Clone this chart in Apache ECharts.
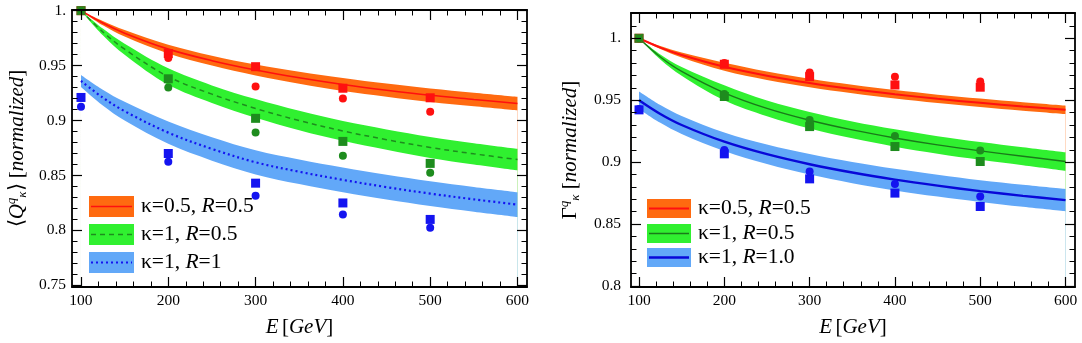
<!DOCTYPE html>
<html>
<head>
<meta charset="utf-8">
<script src="https://cdn.jsdelivr.net/npm/echarts@6/dist/echarts.min.js"></script>
<style>
html,body{margin:0;padding:0;background:#fff;}
#chart{width:1082px;height:343px;}
</style>
</head>
<body>
<div id="chart"></div>
<script>
// energies of the simulated points and of the curve samples
var energies = [100, 200, 300, 400, 500];
var curveE = [100, 125, 150, 200, 250, 300, 350, 400, 450, 500, 550, 600];

// ticks
var xMajor = [100, 200, 300, 400, 500, 600];
var yMajorL = [0.75, 0.8, 0.85, 0.9, 0.95, 1];
var yMajorR = [0.8, 0.85, 0.9, 0.95, 1];

// left panel: <Q> normalized
var qRedLine = [1.000, 0.9887, 0.9795, 0.965, 0.9545, 0.946, 0.9389, 0.9328, 0.9276, 0.923, 0.9192, 0.9155];
var qRedLo   = [1.000, 0.9867, 0.9765, 0.961, 0.950, 0.941, 0.9334, 0.9268, 0.9216, 0.9168, 0.913, 0.9093];
var qRedHi   = [1.000, 0.9907, 0.9825, 0.969, 0.959, 0.951, 0.9444, 0.9388, 0.9336, 0.9292, 0.9254, 0.9217];
var qGrnLine = [1.000, 0.9807, 0.9649, 0.940, 0.924, 0.911, 0.900, 0.8905, 0.8826, 0.8755, 0.8697, 0.8645];
var qGrnLo   = [1.000, 0.9777, 0.9599, 0.9325, 0.916, 0.9025, 0.8912, 0.8815, 0.8733, 0.8659, 0.860, 0.8547];
var qGrnHi   = [1.000, 0.9837, 0.9699, 0.9475, 0.932, 0.9195, 0.9088, 0.8995, 0.8919, 0.8851, 0.8794, 0.8743];
var qBluLine = [0.936, 0.9209, 0.9085, 0.889, 0.8742, 0.862, 0.8534, 0.846, 0.8394, 0.8335, 0.8283, 0.8235];
var qBluLo   = [0.9305, 0.9137, 0.900, 0.8788, 0.8635, 0.851, 0.8422, 0.8347, 0.8281, 0.8222, 0.817, 0.8122];
var qBluHi   = [0.9415, 0.9281, 0.917, 0.8992, 0.8849, 0.873, 0.8646, 0.8573, 0.8507, 0.8448, 0.8396, 0.8348];
var qRedSq  = [1.000, 0.961, 0.949, 0.9294, 0.9207];
var qRedCi  = [1.000, 0.957, 0.931, 0.920, 0.908];
var qGrnSq  = [1.000, 0.938, 0.902, 0.881, 0.861];
var qGrnCi  = [1.000, 0.930, 0.889, 0.868, 0.8525];
var qBluSq  = [0.921, 0.870, 0.843, 0.825, 0.810];
var qBluCi  = [0.9125, 0.8625, 0.8316, 0.8145, 0.8025];

// right panel: Gamma normalized
var gRedLine = [1.000, 0.9925, 0.9865, 0.977, 0.9698, 0.9639, 0.959, 0.9548, 0.9511, 0.9479, 0.9449, 0.9422];
var gRedLo   = [1.000, 0.9913, 0.9845, 0.9737, 0.9664, 0.9605, 0.9556, 0.9514, 0.9477, 0.9445, 0.9415, 0.9388];
var gRedHi   = [1.000, 0.9937, 0.9885, 0.9803, 0.9732, 0.9673, 0.9624, 0.9582, 0.9545, 0.9513, 0.9483, 0.9456];
var gGrnLine = [1.000, 0.9849, 0.9733, 0.956, 0.9434, 0.9338, 0.926, 0.9195, 0.9139, 0.9091, 0.9048, 0.9005];
var gGrnLo   = [1.000, 0.9829, 0.9698, 0.950, 0.9371, 0.9272, 0.9192, 0.9125, 0.9068, 0.9019, 0.8975, 0.893];
var gGrnHi   = [1.000, 0.9869, 0.9768, 0.962, 0.9497, 0.9404, 0.9328, 0.9265, 0.921, 0.9163, 0.9121, 0.908];
var gBluLine = [0.950, 0.9389, 0.930, 0.9165, 0.9064, 0.8983, 0.8916, 0.8859, 0.881, 0.8766, 0.8728, 0.8693];
var gBluLo   = [0.943, 0.9317, 0.9227, 0.909, 0.8985, 0.890, 0.883, 0.8772, 0.8722, 0.8678, 0.8639, 0.8603];
var gBluHi   = [0.957, 0.9461, 0.9373, 0.924, 0.9143, 0.9066, 0.9002, 0.8946, 0.8898, 0.8854, 0.8817, 0.8783];
var gRedSq  = [1.000, 0.979, 0.969, 0.9623, 0.9605];
var gRedCi  = [1.000, 0.980, 0.9723, 0.969, 0.965];
var gGrnSq  = [1.000, 0.953, 0.9287, 0.9126, 0.9005];
var gGrnCi  = [1.000, 0.955, 0.934, 0.9212, 0.9094];
var gBluSq  = [0.9422, 0.9067, 0.8865, 0.875, 0.8642];
var gBluCi  = [0.943, 0.9097, 0.8924, 0.8823, 0.8723];

var SERIF = 'Liberation Serif';
var ORANGE = '#ff6a10', LGREEN = '#30f030', LBLUE = '#62a8f8';
var RED = '#ff1010', DGREEN = '#1e8c1e', BLUE = '#1414f0';

function minorTicks(a, b, step, skip) {
  var out = [];
  for (var v = a; v <= b + step / 2; v += step) {
    var r = Math.round(v * 1000) / 1000;
    if (Math.abs(r / skip - Math.round(r / skip)) > 1e-6) out.push(r);
  }
  return out;
}
var xMinor = minorTicks(100, 600, 20, 100);
var yMinorL = minorTicks(0.75, 1, 0.01, 0.05);
var yMinorR = minorTicks(0.8, 1.02, 0.01, 0.05);

function frame(grid, min, max, major, minor, first, second, labelOpt, nameOpt) {
  var axes = [];
  [first, second].forEach(function (pos, k) {
    var main = {
      type: 'value', gridIndex: grid, min: min, max: max, position: pos, z: 10,
      splitLine: { show: false },
      axisLine: { show: true, onZero: false, lineStyle: { color: '#000', width: 1.8 } },
      axisTick: { show: true, inside: true, length: 10, customValues: major, lineStyle: { color: '#000', width: 1.2 } },
      axisLabel: { show: false }
    };
    if (k === 0) {
      main.axisLabel = Object.assign({ show: true, customValues: major, fontFamily: SERIF, fontSize: 15.5, color: '#000' }, labelOpt);
      Object.assign(main, nameOpt);
    }
    axes.push(main);
    axes.push({
      type: 'value', gridIndex: grid, min: min, max: max, position: pos, z: 10,
      splitLine: { show: false },
      axisLine: { show: false },
      axisTick: { show: true, inside: true, length: 5.5, customValues: minor, lineStyle: { color: '#000', width: 1 } },
      axisLabel: { show: false }
    });
  });
  return axes;
}

var nameRich = {
  t: { fontFamily: SERIF, fontSize: 21, color: '#000' },
  i: { fontFamily: SERIF, fontSize: 21, fontStyle: 'italic', color: '#000' },
  s: { fontFamily: SERIF, fontSize: 13, fontStyle: 'italic', color: '#000', verticalAlign: 'top', lineHeight: 24 },
  k: { fontFamily: SERIF, fontSize: 13, fontStyle: 'italic', color: '#000', verticalAlign: 'bottom', lineHeight: 24 }
};
function xName() {
  return { name: '{i|E} {t|[}{i|GeV}{t|]}', nameLocation: 'middle', nameGap: 30, nameTextStyle: { rich: nameRich } };
}
function yLabel(v) { return v === 1 ? '1.' : String(v); }

var xAxes = [].concat(
  frame(0, 89.7, 610.9, xMajor, xMinor, 'bottom', 'top', { margin: 6 }, xName()),
  frame(1, 90.6, 611.1, xMajor, xMinor, 'bottom', 'top', { margin: 6 }, xName())
);
var yAxes = [].concat(
  frame(0, 0.7485, 1.0006, yMajorL, yMinorL, 'left', 'right', { margin: 6, formatter: yLabel },
    { name: '{t|⟨}{i|Q}{s|q}{k|κ}{t|⟩ [}{i|normalized}{t|]}', nameLocation: 'middle', nameRotate: 90, nameGap: 43, nameTextStyle: { rich: nameRich } }),
  frame(1, 0.7992, 1.0204, yMajorR, yMinorR, 'left', 'right', { margin: 10, formatter: yLabel },
    { name: '{t|Γ}{s|q}{k|κ}{t| [}{i|normalized}{t|]}', nameLocation: 'middle', nameRotate: 90, nameGap: 49, nameTextStyle: { rich: nameRich } })
);

function pairs(xs, ys) { return xs.map(function (x, i) { return [x, ys[i]]; }); }

// a band = coloured fill under the upper edge, then white fill under the lower edge
function fill(g, ys, color) {
  var ax = g * 4;
  return {
    type: 'line', xAxisIndex: ax, yAxisIndex: ax, z: 2, smooth: 0.35, symbol: 'none',
    lineStyle: { width: 0, opacity: 0 }, areaStyle: { color: color, opacity: 1, origin: 'start' },
    data: pairs(curveE, ys)
  };
}
function band(g, lo, hi, color) { return [fill(g, hi, color), fill(g, lo, '#ffffff')]; }
function curve(g, ys, color, width, type) {
  var ax = g * 4;
  return {
    type: 'line', xAxisIndex: ax, yAxisIndex: ax, z: 3, smooth: 0.35, symbol: 'none',
    lineStyle: { color: color, width: width, type: type }, data: pairs(curveE, ys)
  };
}
function dots(g, ys, color, shape, size) {
  var ax = g * 4;
  return {
    type: 'scatter', xAxisIndex: ax, yAxisIndex: ax, z: 5, symbol: shape, symbolSize: size,
    itemStyle: { color: color, opacity: 1 }, data: pairs(energies, ys)
  };
}

var series = [].concat(
  band(0, qRedLo, qRedHi, ORANGE),
  band(0, qGrnLo, qGrnHi, LGREEN),
  band(0, qBluLo, qBluHi, LBLUE),
  [curve(0, qBluLine, BLUE, 2.2, [2, 3]),
   curve(0, qGrnLine, DGREEN, 1.5, [5, 4]),
   curve(0, qRedLine, RED, 1.6, 'solid'),
   dots(0, qRedSq, RED, 'rect', 9), dots(0, qGrnSq, DGREEN, 'rect', 9), dots(0, qBluSq, BLUE, 'rect', 9),
   dots(0, qRedCi, RED, 'circle', 8), dots(0, qGrnCi, DGREEN, 'circle', 8), dots(0, qBluCi, BLUE, 'circle', 8)],
  band(1, gRedLo, gRedHi, ORANGE),
  band(1, gGrnLo, gGrnHi, LGREEN),
  band(1, gBluLo, gBluHi, LBLUE),
  [curve(1, gBluLine, '#0808d8', 2.4, 'solid'),
   curve(1, gGrnLine, '#1a7a1a', 1.4, 'solid'),
   curve(1, gRedLine, RED, 2, 'solid'),
   dots(1, gRedSq, RED, 'rect', 9), dots(1, gGrnSq, DGREEN, 'rect', 9), dots(1, gBluSq, BLUE, 'rect', 9),
   dots(1, gRedCi, RED, 'circle', 8), dots(1, gGrnCi, DGREEN, 'circle', 8), dots(1, gBluCi, BLUE, 'circle', 8)]
);

// legends drawn as boxes with the line style inside
var legendRich = {
  n: { fontFamily: SERIF, fontSize: 21.5, color: '#000' },
  i: { fontFamily: SERIF, fontSize: 21.5, fontStyle: 'italic', color: '#000' }
};
function legendItem(x, y, w, h, fill, stroke, lw, dash, label) {
  return [
    { type: 'rect', left: x, top: y, shape: { width: w, height: h }, style: { fill: fill }, z: 100 },
    { type: 'line', shape: { x1: x + 2, y1: y + h / 2, x2: x + w - 2, y2: y + h / 2 },
      style: { stroke: stroke, lineWidth: lw, lineDash: dash }, z: 101 },
    { type: 'text', x: x + w + 7, y: y + h / 2, style: { text: label, rich: legendRich, verticalAlign: 'middle' }, z: 101 }
  ];
}
var graphics = [].concat(
  legendItem(89, 196, 45, 21, ORANGE, RED, 1.6, null, '{n|κ=0.5, }{i|R}{n|=0.5}'),
  legendItem(89, 224, 45, 21, LGREEN, DGREEN, 1.5, [5, 4], '{n|κ=1, }{i|R}{n|=0.5}'),
  legendItem(89, 252, 45, 21, LBLUE, BLUE, 2.2, [2, 3], '{n|κ=1, }{i|R}{n|=1}'),
  legendItem(647, 199, 44, 19, ORANGE, RED, 2, null, '{n|κ=0.5, }{i|R}{n|=0.5}'),
  legendItem(647, 224, 44, 19, LGREEN, '#1a7a1a', 1.4, null, '{n|κ=1, }{i|R}{n|=0.5}'),
  legendItem(647, 248, 44, 19, LBLUE, '#0808d8', 2.4, null, '{n|κ=1, }{i|R}{n|=1.0}')
);

var chart = echarts.init(document.getElementById('chart'));
chart.setOption({
  animation: false,
  backgroundColor: '#fff',
  grid: [
    { left: 72, top: 10, width: 455, height: 281 },
    { left: 631, top: 13, width: 444, height: 274 }
  ],
  xAxis: xAxes,
  yAxis: yAxes,
  series: series,
  graphic: graphics
});
</script>
</body>
</html>
